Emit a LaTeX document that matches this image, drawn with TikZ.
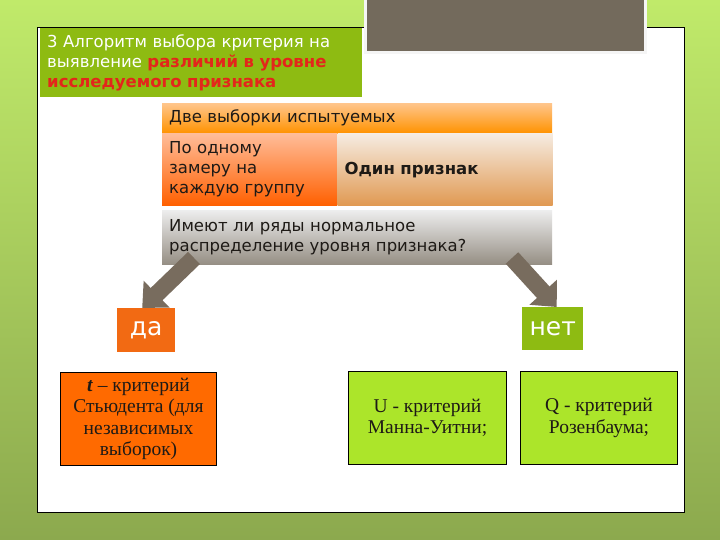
\documentclass[tikz,border=0pt]{standalone}
\usepackage{fontspec}
\setmainfont{Liberation Serif}
\setsansfont{DejaVu Sans}
\usetikzlibrary{arrows.meta,positioning}

\definecolor{bgtop}{HTML}{C0EA6A}
\definecolor{bgbot}{HTML}{8CA94E}
\definecolor{photogray}{HTML}{736A5C}
\definecolor{titlegreen}{HTML}{8EBB12}
\definecolor{titlered}{HTML}{E3261B}
\definecolor{darktext}{HTML}{1E1A16}
\definecolor{arrowgray}{HTML}{786C5E}
\definecolor{yesorange}{HTML}{F26A13}
\definecolor{torange}{HTML}{FF6A00}
\definecolor{lime}{HTML}{ACE52A}

\begin{document}
\begin{tikzpicture}[x=1pt,y=-1pt,
    slide/.style={rectangle, anchor=north west, inner sep=0pt},
    txt/.style={slide, inner xsep=7pt, align=left, text=darktext,
        font=\sffamily\fontsize{16.5}{20}\selectfont},
    answer/.style={slide, text=white, font=\sffamily\fontsize{25}{25}\selectfont},
    crit/.style={slide, draw=black, line width=1pt, align=center, text=darktext,
        minimum height=93pt, font=\fontsize{19.5}{21.5}\selectfont},
    bigarrow/.style={arrowgray, line width=17pt,
        -{Triangle[width=36pt,length=20pt]}}]
    % background
    \fill[top color=bgtop, bottom color=bgbot] (0,0) rectangle (720,540);
    \useasboundingbox (0,0) rectangle (720,540);
    \node[slide, fill=white, draw=black, line width=1pt,
        minimum width=647pt, minimum height=485pt] (panel) at (37,27) {};
    \node[slide, fill=photogray, draw=white!92!gray, line width=3pt,
        minimum width=280pt, minimum height=58pt] (photo) at (364,-7) {};

    % title
    \node[txt, fill=titlegreen, text=white, text width=308pt,
        minimum height=69pt] (title) at (40,28)
        {3 Алгоритм выбора критерия на\\
         выявление \textcolor{titlered}{\bfseries различий в уровне}\\
         \textcolor{titlered}{\bfseries исследуемого признака}};

    % top boxes
    \node[txt, top color=orange!45!white, bottom color=orange!85!yellow,
        text width=376pt, minimum height=30pt] (samples) at (162,103)
        {Две выборки испытуемых};
    \node[txt, top color=red!30!orange!40!white, bottom color=red!25!orange,
        text width=161pt, minimum height=72pt, anchor=north west]
        (measure) at (samples.south west)
        {По одному\\ замеру на\\ каждую группу};
    \node[txt, top color=brown!15!white, bottom color=brown!60!orange!80!white,
        text width=201pt, minimum height=72pt, anchor=north west]
        (sign) at (measure.north east)
        {\bfseries Один признак};
    \node[txt, top color=gray!15!white, bottom color=photogray!75!white,
        text width=376pt, minimum height=53pt, below=5pt of measure.south west,
        anchor=north west] (normal)
        {Имеют ли ряды нормальное\\ распределение уровня признака?};

    % answers
    \node[answer, fill=yesorange, minimum width=58pt, minimum height=44pt]
        (yes) at (117,308) {};
    \node at (yes.center) [text=white, font=\sffamily\fontsize{25}{25}\selectfont] {да};
    \node[answer, fill=titlegreen, minimum width=61pt, minimum height=43pt]
        (no) at (522,307) {};
    \node at (no.center) [text=white, font=\sffamily\fontsize{25}{25}\selectfont] {нет};

    \coordinate (yesTail) at (194,258);
    \coordinate (noTail) at (512,258);
    \draw[bigarrow] (yesTail) -- ([xshift=-4pt]yes.north);
    \draw[bigarrow] (noTail) -- ([xshift=4pt]no.north);

    % criteria
    \node[crit, fill=torange, minimum width=156pt] (student) at (60,372)
        {\textit{\textbf{t}} – критерий\\ Стьюдента (для\\ независимых\\ выборок)};
    \node[crit, fill=lime, minimum width=158pt] (mann) at (348,371)
        {U - критерий\\ Манна-Уитни;};
    \node[crit, fill=lime, minimum width=157pt] (rosen) at (520,371)
        {Q - критерий\\ Розенбаума;};
\end{tikzpicture}
\end{document}
